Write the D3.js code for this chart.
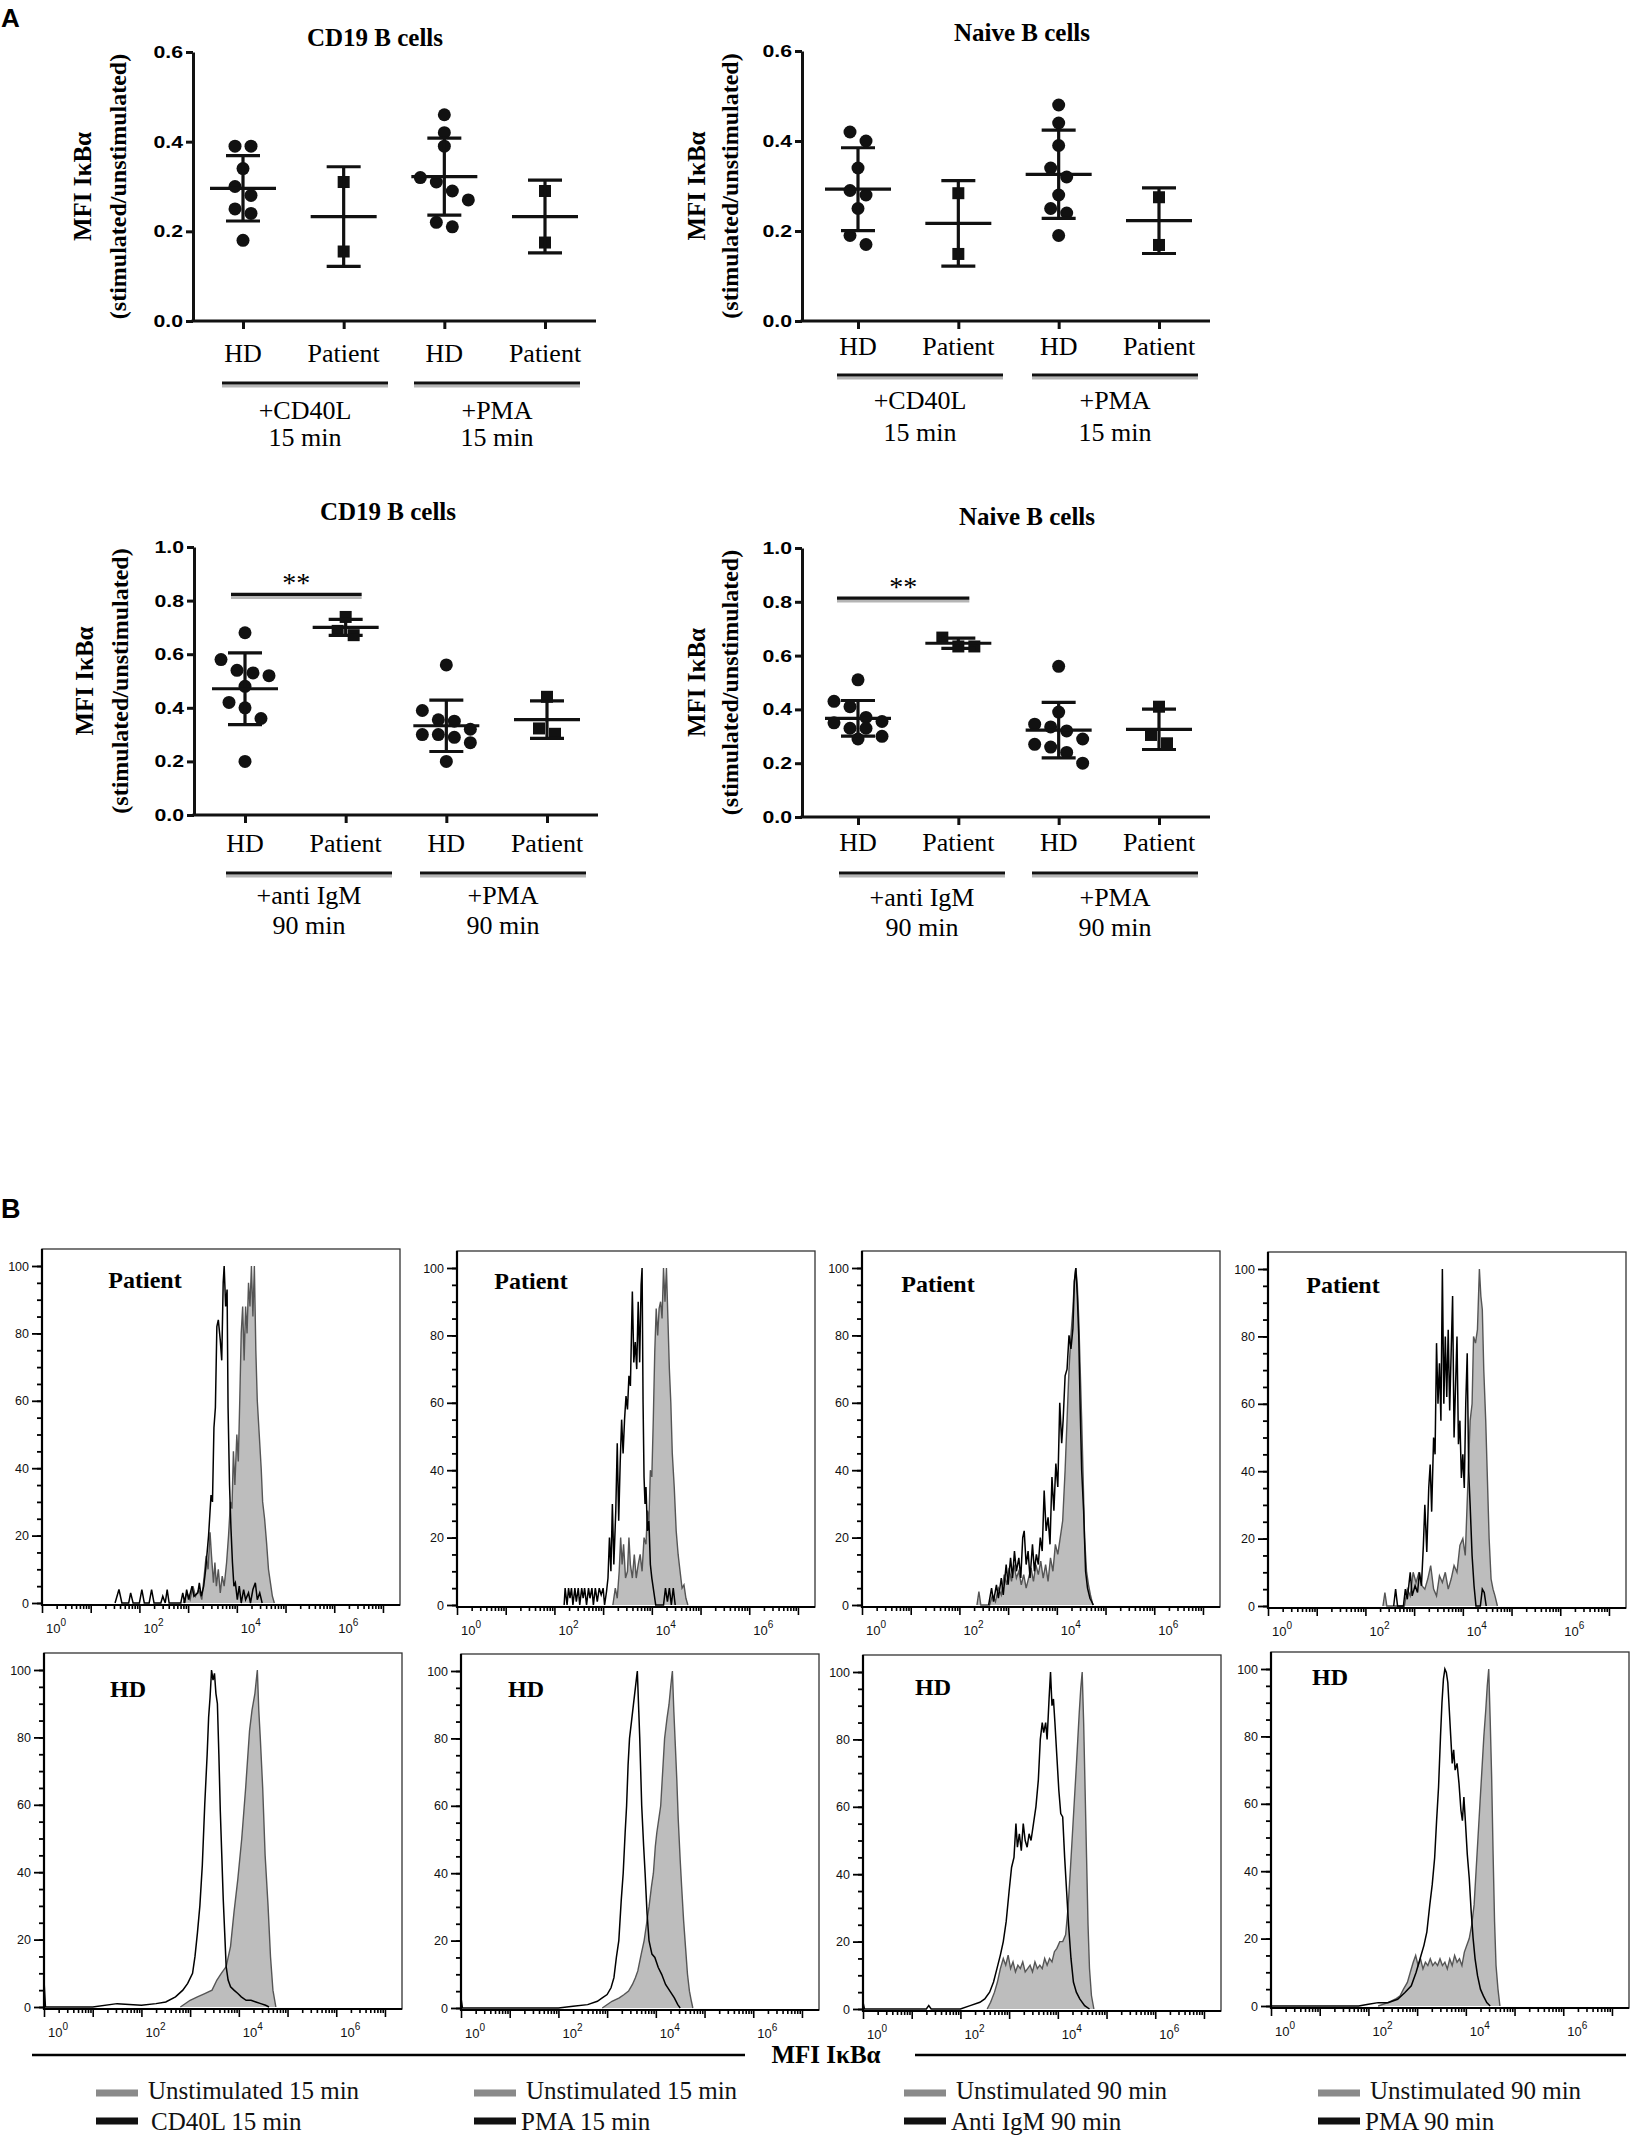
<!DOCTYPE html>
<html>
<head>
<meta charset="utf-8">
<script src="https://cdn.jsdelivr.net/npm/d3@7"></script>
<style>
  body { margin: 0; background: #fff; }
  svg { display: block; }
</style>
</head>
<body>
<div id="chart"></div>
<script>
// ---------- panel A : scatter dot plots ----------
var groupLabels = ["HD", "Patient", "HD", "Patient"];
var treat15 = [["+CD40L", "15 min"], ["+PMA", "15 min"]];
var treat90 = [["+anti IgM", "90 min"], ["+PMA", "90 min"]];
var ticksA15 = [0, 0.2, 0.4, 0.6];
var ticksA90 = [0, 0.2, 0.4, 0.6, 0.8, 1.0];

// CD19 B cells, 15 min
var cd19Early = [
  [0.39, 0.39, 0.34, 0.30, 0.28, 0.25, 0.24, 0.18],
  [0.31, 0.155],
  [0.46, 0.42, 0.39, 0.32, 0.31, 0.29, 0.27, 0.22, 0.21],
  [0.29, 0.175]
];
var cd19EarlyMean = [0.296, 0.233, 0.322, 0.233];
var cd19EarlySd = [0.073, 0.111, 0.086, 0.081];

// Naive B cells, 15 min
var naiveEarly = [
  [0.42, 0.40, 0.34, 0.29, 0.28, 0.25, 0.19, 0.17],
  [0.284, 0.149],
  [0.48, 0.44, 0.39, 0.34, 0.32, 0.28, 0.25, 0.24, 0.19],
  [0.275, 0.169]
];
var naiveEarlyMean = [0.293, 0.217, 0.326, 0.223];
var naiveEarlySd = [0.092, 0.095, 0.098, 0.073];

// CD19 B cells, 90 min
var cd19Late = [
  [0.68, 0.58, 0.54, 0.53, 0.52, 0.48, 0.42, 0.40, 0.36, 0.20],
  [0.739, 0.687, 0.671],
  [0.56, 0.39, 0.355, 0.35, 0.32, 0.30, 0.30, 0.29, 0.27, 0.20],
  [0.441, 0.323, 0.303]
];
var cd19LateMean = [0.471, 0.700, 0.333, 0.356];
var cd19LateSd = [0.134, 0.030, 0.096, 0.070];

// Naive B cells, 90 min
var naiveLate = [
  [0.51, 0.43, 0.41, 0.37, 0.355, 0.35, 0.33, 0.33, 0.30, 0.29],
  [0.667, 0.634, 0.634],
  [0.56, 0.39, 0.345, 0.335, 0.32, 0.29, 0.27, 0.26, 0.24, 0.20],
  [0.41, 0.305, 0.274]
];
var naiveLateMean = [0.367, 0.646, 0.323, 0.326];
var naiveLateSd = [0.066, 0.019, 0.103, 0.075];

// ---------- panel B : IkBa histograms, [log10 MFI, % of max] ----------
var histRows = ["Patient", "HD"];
var xTickExp = [0, 2, 4, 6];
var legendUnstim = ["Unstimulated 15 min", "Unstimulated 15 min", "Unstimulated 90 min", "Unstimulated 90 min"];
var legendStim = ["CD40L 15 min", "PMA 15 min", "Anti IgM 90 min", "PMA 90 min"];

var patCd40lUnstim = [[2.90,0],[2.98,3],[3.04,1],[3.10,5],[3.15,2],[3.22,4],[3.28,1],[3.33,8],[3.37,14],[3.41,10],[3.45,21],[3.48,14],[3.52,6],[3.55,12],[3.58,5],[3.62,10],[3.66,3],[3.70,8],[3.74,5],[3.79,12],[3.83,20],[3.87,30],[3.90,28],[3.93,45],[3.96,35],[4.00,50],[4.03,42],[4.06,60],[4.09,80],[4.12,88],[4.15,72],[4.18,88],[4.21,80],[4.24,95],[4.27,88],[4.30,100],[4.33,85],[4.36,100],[4.39,75],[4.42,60],[4.46,50],[4.50,40],[4.53,30],[4.57,25],[4.61,18],[4.65,10],[4.69,6],[4.73,2],[4.77,0]];
var patCd40lStim = [[1.50,0],[1.58,4],[1.64,0],[1.78,0],[1.82,3],[1.87,0],[2.00,0],[2.05,4],[2.10,0],[2.20,0],[2.25,4],[2.30,0],[2.44,0],[2.48,2],[2.53,0],[2.57,4],[2.61,0],[2.85,0],[2.89,3],[2.93,0],[2.97,4],[3.01,1],[3.08,5],[3.12,2],[3.20,3],[3.23,6],[3.27,2],[3.32,5],[3.36,10],[3.42,20],[3.47,32],[3.50,30],[3.53,52],[3.56,58],[3.59,82],[3.62,84],[3.66,78],[3.69,72],[3.72,95],[3.74,100],[3.77,88],[3.80,93],[3.82,58],[3.85,35],[3.88,22],[3.91,12],[3.94,5],[3.97,6],[4.01,1],[4.05,5],[4.09,0],[4.14,4],[4.18,1],[4.24,3],[4.28,0],[4.33,4],[4.38,6],[4.42,1],[4.47,3],[4.52,0]];

var patPma15Unstim = [[3.20,0],[3.25,5],[3.29,2],[3.33,10],[3.36,20],[3.39,12],[3.42,18],[3.46,8],[3.50,10],[3.53,20],[3.56,12],[3.60,8],[3.64,15],[3.68,8],[3.72,12],[3.76,15],[3.80,10],[3.84,20],[3.88,18],[3.91,28],[3.94,25],[3.97,40],[4.00,38],[4.03,55],[4.06,75],[4.09,88],[4.12,80],[4.15,88],[4.18,90],[4.21,85],[4.24,100],[4.27,90],[4.30,100],[4.33,85],[4.36,70],[4.39,60],[4.42,45],[4.46,35],[4.50,22],[4.54,15],[4.58,10],[4.62,5],[4.66,6],[4.70,2],[4.74,0]];
var patPma15Stim = [[2.20,0],[2.22,5],[2.26,0],[2.29,5],[2.32,2],[2.35,5],[2.38,0],[2.42,5],[2.45,1],[2.49,5],[2.52,0],[2.56,5],[2.59,2],[2.62,5],[2.66,0],[2.70,5],[2.73,2],[2.77,5],[2.80,0],[2.84,5],[2.88,1],[2.92,5],[2.96,3],[3.00,5],[3.03,0],[3.07,4],[3.10,8],[3.13,20],[3.16,10],[3.19,30],[3.22,12],[3.26,28],[3.29,48],[3.32,25],[3.35,42],[3.38,55],[3.41,45],[3.44,55],[3.47,62],[3.50,58],[3.53,68],[3.56,65],[3.60,93],[3.63,72],[3.66,78],[3.69,70],[3.72,90],[3.75,72],[3.78,95],[3.80,100],[3.82,60],[3.84,38],[3.86,30],[3.88,35],[3.91,22],[3.94,25],[3.97,12],[4.00,8],[4.04,4],[4.08,0],[4.24,0],[4.28,5],[4.32,1],[4.36,5],[4.40,0],[4.44,5],[4.48,0]];

var patIgmUnstim = [[2.36,0],[2.40,4],[2.44,0],[2.62,0],[2.68,3],[2.74,1],[2.80,5],[2.86,3],[2.92,9],[2.97,6],[3.02,11],[3.07,7],[3.12,12],[3.17,8],[3.22,10],[3.27,6],[3.32,9],[3.37,5],[3.42,8],[3.47,11],[3.52,7],[3.57,12],[3.62,9],[3.67,13],[3.72,8],[3.77,12],[3.82,7],[3.87,14],[3.92,10],[3.97,18],[4.02,15],[4.07,20],[4.12,25],[4.17,40],[4.21,55],[4.25,70],[4.29,80],[4.33,88],[4.36,96],[4.39,100],[4.42,95],[4.45,85],[4.48,70],[4.51,55],[4.54,38],[4.57,20],[4.61,10],[4.65,6],[4.69,3],[4.74,0]];
var patIgmStim = [[2.60,0],[2.66,5],[2.70,1],[2.76,6],[2.80,2],[2.86,8],[2.90,3],[2.96,12],[3.00,6],[3.05,14],[3.09,8],[3.13,16],[3.17,10],[3.22,14],[3.26,8],[3.30,20],[3.33,22],[3.37,12],[3.41,16],[3.45,8],[3.50,18],[3.54,10],[3.58,15],[3.62,12],[3.66,20],[3.70,16],[3.74,34],[3.78,22],[3.82,26],[3.86,18],[3.90,38],[3.94,28],[3.98,42],[4.02,35],[4.06,60],[4.10,48],[4.13,55],[4.17,68],[4.21,70],[4.25,80],[4.29,76],[4.33,82],[4.36,96],[4.39,100],[4.42,92],[4.45,80],[4.48,58],[4.51,40],[4.55,28],[4.59,10],[4.63,5],[4.68,2],[4.75,0]];

var patPma90Unstim = [[2.36,0],[2.40,4],[2.44,0],[2.80,0],[2.86,5],[2.92,3],[2.98,10],[3.04,7],[3.10,10],[3.16,6],[3.22,5],[3.28,8],[3.34,12],[3.40,5],[3.46,3],[3.52,9],[3.58,7],[3.64,10],[3.70,5],[3.76,8],[3.82,12],[3.88,10],[3.94,18],[4.00,20],[4.05,15],[4.10,35],[4.15,55],[4.19,60],[4.22,80],[4.26,78],[4.30,82],[4.34,100],[4.37,92],[4.40,88],[4.43,70],[4.47,55],[4.50,40],[4.54,20],[4.58,8],[4.62,5],[4.66,3],[4.71,0]];
var patPma90Stim = [[2.58,0],[2.62,5],[2.66,0],[2.78,0],[2.82,5],[2.86,2],[2.92,10],[2.96,3],[3.02,6],[3.07,4],[3.11,10],[3.15,6],[3.19,18],[3.22,30],[3.26,16],[3.30,35],[3.33,42],[3.36,28],[3.40,50],[3.43,45],[3.46,78],[3.49,60],[3.52,72],[3.55,55],[3.58,100],[3.61,60],[3.64,80],[3.67,62],[3.70,82],[3.73,58],[3.76,75],[3.79,92],[3.82,50],[3.85,65],[3.88,80],[3.91,48],[3.94,55],[3.97,38],[4.00,45],[4.03,35],[4.06,60],[4.09,75],[4.12,40],[4.15,30],[4.19,15],[4.23,6],[4.27,0],[4.36,0],[4.40,5],[4.44,4],[4.48,0]];

var hdCd40lUnstim = [[2.80,0],[3.00,2],[3.15,3],[3.30,4],[3.45,5],[3.55,8],[3.64,10],[3.74,12],[3.83,18],[3.90,28],[3.98,38],[4.06,50],[4.14,65],[4.22,82],[4.27,88],[4.33,93],[4.38,100],[4.41,88],[4.44,80],[4.49,65],[4.54,45],[4.60,30],[4.65,15],[4.70,5],[4.76,0]];
var hdCd40lStim = [[0.00,8],[0.03,0],[1.00,0],[1.50,1],[2.00,0.5],[2.30,1],[2.50,1.5],[2.70,3],[2.85,5],[2.95,7],[3.05,10],[3.10,15],[3.15,22],[3.20,30],[3.25,42],[3.30,60],[3.35,75],[3.38,86],[3.41,92],[3.44,100],[3.47,97],[3.50,99],[3.53,93],[3.56,90],[3.59,75],[3.62,58],[3.65,45],[3.68,32],[3.71,22],[3.74,12],[3.78,8],[3.83,6],[3.90,5],[3.98,4],[4.05,3],[4.15,2],[4.25,2],[4.35,1.5],[4.45,1],[4.55,0.5],[4.62,0]];

var hdPma15Unstim = [[2.90,0],[3.10,2],[3.25,3],[3.35,4],[3.44,5],[3.52,7],[3.58,9],[3.63,11],[3.70,16],[3.76,20],[3.81,25],[3.86,30],[3.91,36],[3.95,40],[3.99,48],[4.02,52],[4.06,56],[4.10,60],[4.14,70],[4.18,80],[4.23,86],[4.27,90],[4.31,96],[4.34,100],[4.37,88],[4.40,78],[4.43,68],[4.46,56],[4.50,44],[4.53,36],[4.57,26],[4.61,18],[4.65,10],[4.69,5],[4.73,2],[4.76,0]];
var hdPma15Stim = [[0.00,3],[0.03,0],[1.00,0],[2.00,0],[2.30,0.5],[2.60,1],[2.80,2],[2.90,3],[3.00,4],[3.08,6],[3.14,9],[3.19,15],[3.24,20],[3.29,32],[3.33,40],[3.37,52],[3.40,60],[3.43,72],[3.46,80],[3.50,85],[3.54,90],[3.58,95],[3.62,100],[3.65,88],[3.67,80],[3.69,70],[3.71,60],[3.75,48],[3.78,40],[3.82,28],[3.86,20],[3.92,16],[3.98,15],[4.05,12],[4.12,10],[4.20,7],[4.29,5],[4.38,3],[4.45,1],[4.50,0]];

var hdIgmUnstim = [[2.55,0],[2.62,2],[2.70,5],[2.76,8],[2.82,12],[2.88,15],[2.93,13],[2.98,16],[3.03,12],[3.08,14],[3.13,11],[3.18,13],[3.23,12],[3.28,14],[3.33,11],[3.38,12],[3.43,13],[3.48,11],[3.53,14],[3.58,12],[3.63,13],[3.68,12],[3.73,15],[3.78,13],[3.83,15],[3.88,14],[3.93,17],[3.98,18],[4.04,20],[4.10,20],[4.16,22],[4.21,30],[4.26,42],[4.30,52],[4.34,62],[4.38,72],[4.41,80],[4.44,88],[4.47,95],[4.50,100],[4.53,85],[4.56,65],[4.59,45],[4.62,25],[4.65,12],[4.69,4],[4.74,0]];
var hdIgmStim = [[0.00,2],[0.03,0],[1.30,0],[1.35,1],[1.40,0],[2.00,0],[2.20,1],[2.40,2],[2.50,3],[2.60,5],[2.68,8],[2.75,12],[2.82,16],[2.88,20],[2.94,26],[3.00,35],[3.05,42],[3.10,45],[3.14,55],[3.17,48],[3.21,52],[3.25,47],[3.29,55],[3.33,50],[3.37,48],[3.41,52],[3.45,50],[3.50,55],[3.55,60],[3.60,68],[3.64,80],[3.68,85],[3.71,82],[3.75,85],[3.78,80],[3.82,92],[3.85,100],[3.88,90],[3.91,92],[3.94,85],[3.98,75],[4.02,65],[4.06,58],[4.10,57],[4.14,45],[4.18,35],[4.22,25],[4.27,15],[4.32,8],[4.38,5],[4.45,3],[4.55,1],[4.65,0]];

var hdPma90Unstim = [[2.20,0],[2.40,1],[2.55,2],[2.65,3],[2.72,5],[2.80,7],[2.86,10],[2.92,13],[2.97,15],[3.02,12],[3.07,14],[3.12,11],[3.17,13],[3.22,12],[3.27,14],[3.32,12],[3.37,13],[3.42,12],[3.47,14],[3.52,12],[3.57,13],[3.62,11],[3.67,14],[3.72,12],[3.77,15],[3.82,13],[3.87,14],[3.92,12],[3.97,16],[4.02,18],[4.07,20],[4.12,24],[4.17,30],[4.21,40],[4.25,50],[4.29,60],[4.33,70],[4.37,80],[4.41,88],[4.44,95],[4.47,100],[4.50,85],[4.53,68],[4.56,45],[4.59,25],[4.62,12],[4.66,5],[4.70,0]];
var hdPma90Stim = [[0.00,0],[1.80,0],[2.00,0.5],[2.20,1],[2.40,1],[2.60,2],[2.75,4],[2.88,6],[2.98,10],[3.06,14],[3.14,18],[3.20,22],[3.26,30],[3.31,36],[3.36,44],[3.40,55],[3.44,65],[3.48,80],[3.51,90],[3.54,97],[3.57,100],[3.60,99],[3.63,96],[3.66,88],[3.69,80],[3.72,72],[3.75,76],[3.78,70],[3.82,72],[3.86,66],[3.90,58],[3.93,55],[3.96,62],[3.99,55],[4.03,45],[4.07,38],[4.11,28],[4.15,20],[4.19,14],[4.24,9],[4.30,5],[4.36,3],[4.43,1],[4.50,0]];

// ---------- drawing ----------
var serif = "'Liberation Serif', 'Times New Roman', serif";
var sans = "'Liberation Sans', Arial, sans-serif";

var svg = d3.select("#chart")
  .append("svg")
    .attr("width", 1632)
    .attr("height", 2141);

svg.append("rect").attr("width", 1632).attr("height", 2141).attr("fill", "#fff");

svg.append("text").attr("x", 1).attr("y", 27)
  .attr("font-family", sans).attr("font-weight", "bold").attr("font-size", 26).text("A");
svg.append("text").attr("x", 1).attr("y", 1218)
  .attr("font-family", sans).attr("font-weight", "bold").attr("font-size", 27).text("B");

// spread overlapping dots sideways, a bit like Prism does
function spread(vals, y, r) {
  var sorted = vals.map(function(v) { return v; }).sort(function(a, b) { return b - a; });
  var groups = [], cur = [];
  sorted.forEach(function(v) {
    if (cur.length && (y(v) - y(cur[cur.length - 1]) > 2 * r || cur.length === 4)) {
      groups.push(cur);
      cur = [];
    }
    cur.push(v);
  });
  if (cur.length) groups.push(cur);
  var out = [];
  groups.forEach(function(gr) {
    gr.forEach(function(v, j) { out.push({ v: v, dx: (j - (gr.length - 1) / 2) * 16 }); });
  });
  return out;
}

function shadowLine(g, x1, x2, yy) {
  g.append("line").attr("x1", x1).attr("x2", x2).attr("y1", yy + 3).attr("y2", yy + 3)
    .attr("stroke", "#b5b5b5").attr("stroke-width", 3);
  g.append("line").attr("x1", x1).attr("x2", x2).attr("y1", yy).attr("y2", yy)
    .attr("stroke", "#111").attr("stroke-width", 3.2);
}

function dotPanel(cfg) {
  var g = svg.append("g");
  var y = d3.scaleLinear().domain([0, cfg.yMax]).range([cfg.y0, cfg.yTop]);
  var x = d3.scalePoint().domain(d3.range(4)).range([cfg.x1, cfg.x4]);

  // title
  g.append("text").attr("x", cfg.titleX).attr("y", cfg.titleY + 8)
    .attr("text-anchor", "middle").attr("font-family", serif).attr("font-weight", "bold")
    .attr("font-size", 25).text(cfg.title);

  // y axis (labels are wide in the original, so stretch them a bit)
  var yAxis = d3.axisLeft(y).tickValues(cfg.ticks).tickSize(7).tickSizeOuter(0)
    .tickPadding(3).tickFormat(d3.format(".1f"));
  var ya = g.append("g").attr("transform", "translate(" + cfg.axisX + ",0)").call(yAxis);
  ya.select(".domain").attr("stroke", "#111").attr("stroke-width", 3);
  ya.selectAll(".tick line").attr("stroke", "#111").attr("stroke-width", 3);
  ya.selectAll(".tick text").attr("font-family", sans).attr("font-weight", "bold")
    .attr("font-size", 17).attr("fill", "#000")
    .attr("x", -10 / 1.25).attr("transform", "scale(1.25,1)");

  // x axis
  g.append("line").attr("x1", cfg.axisX - 1.5).attr("x2", cfg.xEnd)
    .attr("y1", cfg.y0).attr("y2", cfg.y0).attr("stroke", "#111").attr("stroke-width", 3);
  var xAxis = d3.axisBottom(x).tickSize(8).tickFormat("");
  var xa = g.append("g").attr("transform", "translate(0," + cfg.y0 + ")").call(xAxis);
  xa.select(".domain").remove();
  xa.selectAll(".tick line").attr("stroke", "#111").attr("stroke-width", 3);

  groupLabels.forEach(function(lab, i) {
    g.append("text").attr("x", x(i)).attr("y", cfg.y0 + cfg.labelOff + 9)
      .attr("text-anchor", "middle").attr("font-family", serif).attr("font-size", 26)
      .text(lab);
  });

  // treatment underlines and labels
  cfg.treat.forEach(function(t, k) {
    var c = cfg.ulCenters[k];
    shadowLine(g, c - 83, c + 83, cfg.y0 + cfg.ulOff);
    g.append("text").attr("x", c).attr("y", cfg.y0 + cfg.t1Off + 9)
      .attr("text-anchor", "middle").attr("font-family", serif).attr("font-size", 26).text(t[0]);
    g.append("text").attr("x", c).attr("y", cfg.y0 + cfg.t2Off + 9)
      .attr("text-anchor", "middle").attr("font-family", serif).attr("font-size", 26).text(t[1]);
  });

  // y title
  var midY = (cfg.y0 + cfg.yTop) / 2;
  g.append("text").attr("transform", "translate(" + cfg.yTitleX[0] + "," + midY + ") rotate(-90)")
    .attr("dy", "0.35em").attr("text-anchor", "middle").attr("font-family", serif)
    .attr("font-weight", "bold").attr("font-size", 25).text("MFI I\u03BAB\u03B1");
  g.append("text").attr("transform", "translate(" + cfg.yTitleX[1] + "," + midY + ") rotate(-90)")
    .attr("dy", "0.35em").attr("text-anchor", "middle").attr("font-family", serif)
    .attr("font-weight", "bold").attr("font-size", 24).text("(stimulated/unstimulated)");

  // points
  cfg.values.forEach(function(vals, i) {
    var pts = spread(vals, y, 6);
    if (i % 2 === 0) {
      g.selectAll(null).data(pts).enter().append("circle")
        .attr("cx", function(d) { return x(i) + d.dx; })
        .attr("cy", function(d) { return y(d.v); })
        .attr("r", 6.5).attr("fill", "#111");
    } else {
      g.selectAll(null).data(pts).enter().append("rect")
        .attr("x", function(d) { return x(i) + d.dx - 6; })
        .attr("y", function(d) { return y(d.v) - 6; })
        .attr("width", 12).attr("height", 12).attr("fill", "#111");
    }
  });

  // mean and SD
  cfg.means.forEach(function(m, i) {
    var s = cfg.sds[i], cx = x(i);
    g.append("line").attr("x1", cx).attr("x2", cx).attr("y1", y(m - s)).attr("y2", y(m + s))
      .attr("stroke", "#111").attr("stroke-width", 3.2);
    [m - s, m + s].forEach(function(v) {
      g.append("line").attr("x1", cx - 17).attr("x2", cx + 17).attr("y1", y(v)).attr("y2", y(v))
        .attr("stroke", "#111").attr("stroke-width", 3.2);
    });
    g.append("line").attr("x1", cx - 33).attr("x2", cx + 33).attr("y1", y(m)).attr("y2", y(m))
      .attr("stroke", "#111").attr("stroke-width", 3.2);
  });

  // significance
  if (cfg.sig) {
    shadowLine(g, x(0) + cfg.sig.dx1, x(1) + cfg.sig.dx2, y(cfg.sig.v));
    g.append("text").attr("x", (x(0) + cfg.sig.dx1 + x(1) + cfg.sig.dx2) / 2)
      .attr("y", y(cfg.sig.v) - 2).attr("text-anchor", "middle").attr("font-family", serif)
      .attr("font-size", 28).text("**");
  }
}

dotPanel({ title: "CD19 B cells", titleX: 375, titleY: 38, axisX: 193, y0: 321, yTop: 52, yMax: 0.6,
  ticks: ticksA15, x1: 243, x4: 545, xEnd: 596, labelOff: 32, ulOff: 62, ulCenters: [305, 497],
  t1Off: 89, t2Off: 116, yTitleX: [82, 118], treat: treat15,
  values: cd19Early, means: cd19EarlyMean, sds: cd19EarlySd });

dotPanel({ title: "Naive B cells", titleX: 1022, titleY: 33, axisX: 802, y0: 321, yTop: 51, yMax: 0.6,
  ticks: ticksA15, x1: 858, x4: 1159, xEnd: 1210, labelOff: 25, ulOff: 54, ulCenters: [920, 1115],
  t1Off: 79, t2Off: 111, yTitleX: [696, 730], treat: treat15,
  values: naiveEarly, means: naiveEarlyMean, sds: naiveEarlySd });

dotPanel({ title: "CD19 B cells", titleX: 388, titleY: 512, axisX: 194, y0: 815, yTop: 547, yMax: 1.0,
  ticks: ticksA90, x1: 245, x4: 547, xEnd: 598, labelOff: 28, ulOff: 58, ulCenters: [309, 503],
  t1Off: 80, t2Off: 110, yTitleX: [84, 120], treat: treat90,
  values: cd19Late, means: cd19LateMean, sds: cd19LateSd, sig: { v: 0.823, dx1: -14, dx2: 16 } });

dotPanel({ title: "Naive B cells", titleX: 1027, titleY: 517, axisX: 802, y0: 817, yTop: 548, yMax: 1.0,
  ticks: ticksA90, x1: 858, x4: 1159, xEnd: 1210, labelOff: 25, ulOff: 56, ulCenters: [922, 1115],
  t1Off: 80, t2Off: 110, yTitleX: [696, 730], treat: treat90,
  values: naiveLate, means: naiveLateMean, sds: naiveLateSd, sig: { v: 0.814, dx1: -21, dx2: 11 } });

// ---------- panel B ----------
function histPanel(left, top, unstim, stim, label, lx, ly) {
  var g = svg.append("g");
  var w = 358, bottom = top + 356;
  var x = d3.scaleLog().domain([1, Math.pow(10, 7.35)]).range([left, left + w]);
  var y = d3.scaleLinear().domain([0, 100]).range([bottom - 2, top + 17]);
  var px = function(d) { return x(Math.pow(10, d[0])); };

  g.append("rect").attr("x", left).attr("y", top).attr("width", w).attr("height", bottom - top)
    .attr("fill", "none").attr("stroke", "#333").attr("stroke-width", 1.3);

  var area = d3.area().x(px).y0(y(0)).y1(function(d) { return y(d[1]); });
  var line = d3.line().x(px).y(function(d) { return y(d[1]); });

  g.append("path").datum(unstim).attr("d", area).attr("fill", "#bdbdbd");
  g.append("path").datum(unstim).attr("d", line).attr("fill", "none")
    .attr("stroke", "#555").attr("stroke-width", 1.4);
  g.append("path").datum(stim).attr("d", line).attr("fill", "none")
    .attr("stroke", "#000").attr("stroke-width", 1.5);

  // axes lines
  g.append("line").attr("x1", left).attr("x2", left).attr("y1", top).attr("y2", bottom + 1)
    .attr("stroke", "#000").attr("stroke-width", 2.2);
  g.append("line").attr("x1", left).attr("x2", left + w).attr("y1", bottom).attr("y2", bottom)
    .attr("stroke", "#000").attr("stroke-width", 2.2);

  // y ticks
  var yMinor = d3.axisLeft(y).tickValues(d3.range(0, 101, 5)).tickSize(5).tickFormat("");
  var yMajor = d3.axisLeft(y).tickValues(d3.range(0, 101, 20)).tickSize(10).tickPadding(3);
  [yMinor, yMajor].forEach(function(ax) {
    var a = g.append("g").attr("transform", "translate(" + left + ",0)").call(ax);
    a.select(".domain").remove();
    a.selectAll(".tick line").attr("stroke", "#000").attr("stroke-width", 1.8);
    a.selectAll(".tick text").attr("font-family", sans).attr("font-size", 12.5).attr("fill", "#111");
  });

  // x ticks (log)
  var majors = d3.range(0, 8).map(function(e) { return Math.pow(10, e); });
  var minors = [];
  d3.range(0, 7).forEach(function(e) {
    d3.range(2, 10).forEach(function(m) { minors.push(m * Math.pow(10, e)); });
  });
  var xMinor = d3.axisBottom(x).tickValues(minors).tickSize(4).tickFormat("");
  var xMajor = d3.axisBottom(x).tickValues(majors).tickSize(8).tickFormat("");
  [xMinor, xMajor].forEach(function(ax) {
    var a = g.append("g").attr("transform", "translate(0," + bottom + ")").call(ax);
    a.select(".domain").remove();
    a.selectAll(".tick line").attr("stroke", "#000").attr("stroke-width", 1.6);
  });
  xTickExp.forEach(function(e) {
    var t = g.append("text").attr("x", x(Math.pow(10, e)) + 4).attr("y", bottom + 28)
      .attr("font-family", sans).attr("font-size", 13).attr("fill", "#111");
    t.append("tspan").text("10");
    t.append("tspan").attr("dy", -7).attr("font-size", 10).text(e);
  });

  g.append("text").attr("x", left + lx).attr("y", top + ly + 8)
    .attr("text-anchor", "middle").attr("font-family", serif).attr("font-weight", "bold")
    .attr("font-size", 24).text(label);
}

var patientCurves = [[patCd40lUnstim, patCd40lStim], [patPma15Unstim, patPma15Stim],
                     [patIgmUnstim, patIgmStim], [patPma90Unstim, patPma90Stim]];
var hdCurves = [[hdCd40lUnstim, hdCd40lStim], [hdPma15Unstim, hdPma15Stim],
                [hdIgmUnstim, hdIgmStim], [hdPma90Unstim, hdPma90Stim]];

var rowLefts = [[42, 457, 862, 1268], [44, 461, 863, 1271]];
var rowTops = [[1249, 1251, 1251, 1252], [1653, 1654, 1655, 1652]];
var labelPos = [[[103, 31], [74, 30], [76, 33], [75, 33]], [[84, 36], [65, 35], [70, 32], [59, 25]]];

[patientCurves, hdCurves].forEach(function(row, r) {
  row.forEach(function(c, k) {
    histPanel(rowLefts[r][k], rowTops[r][k], c[0], c[1], histRows[r], labelPos[r][k][0], labelPos[r][k][1]);
  });
});

// shared axis title + legend
svg.append("line").attr("x1", 32).attr("x2", 745).attr("y1", 2055).attr("y2", 2055)
  .attr("stroke", "#000").attr("stroke-width", 2.5);
svg.append("line").attr("x1", 915).attr("x2", 1626).attr("y1", 2055).attr("y2", 2055)
  .attr("stroke", "#000").attr("stroke-width", 2.5);
svg.append("text").attr("x", 826).attr("y", 2063).attr("text-anchor", "middle")
  .attr("font-family", serif).attr("font-weight", "bold").attr("font-size", 25)
  .text("MFI I\u03BAB\u03B1");

var legX = [96, 474, 904, 1318];
legendUnstim.forEach(function(t, k) {
  svg.append("line").attr("x1", legX[k]).attr("x2", legX[k] + 42).attr("y1", 2093).attr("y2", 2093)
    .attr("stroke", "#8a8a8a").attr("stroke-width", 7);
  svg.append("text").attr("x", legX[k] + 52).attr("y", 2099).attr("font-family", serif)
    .attr("font-size", 25).attr("fill", "#111").text(t);
});
legendStim.forEach(function(t, k) {
  svg.append("line").attr("x1", legX[k]).attr("x2", legX[k] + 42).attr("y1", 2121).attr("y2", 2121)
    .attr("stroke", "#111").attr("stroke-width", 7);
  svg.append("text").attr("x", legX[k] + (k === 0 ? 55 : 47)).attr("y", 2130).attr("font-family", serif)
    .attr("font-size", 25).attr("fill", "#111").text(t);
});
</script>
</body>
</html>
